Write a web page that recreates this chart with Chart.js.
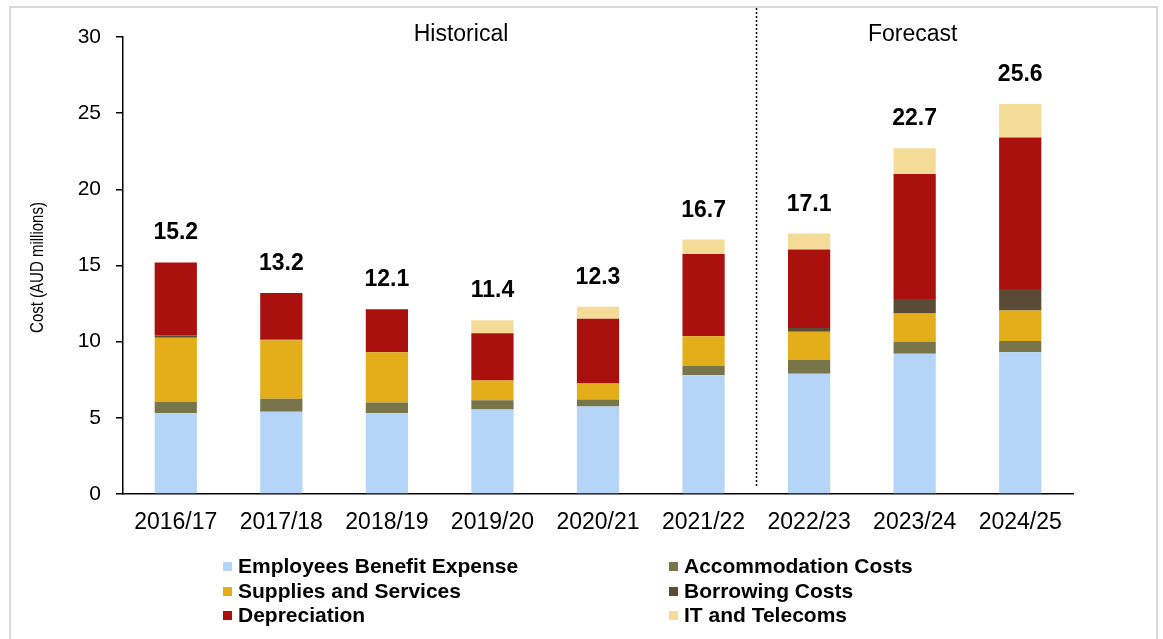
<!DOCTYPE html>
<html>
<head>
<meta charset="utf-8">
<script src="https://cdn.jsdelivr.net/npm/chart.js@4.4.0/dist/chart.umd.min.js"></script>
<style>
  body { margin: 0; background: #fff; overflow: hidden; font-family: "Liberation Sans", Arial, sans-serif; }
  #wrap { position: relative; width: 1163px; height: 639px; }
  #frame { position: absolute; left: 9px; top: 6px; width: 1149px; height: 660px; border: 2px solid #d9d9d9; box-sizing: border-box; }
  #chart { position: absolute; left: 0; top: 0; }
  .item { position: absolute; font-weight: bold; font-size: 21px; color: #000; line-height: 24px; white-space: nowrap; }
  .item .box { display: inline-block; width: 9px; height: 9px; margin-right: 6px; vertical-align: 2px; }
</style>
</head>
<body>
<div id="wrap">
  <div id="frame"></div>
  <canvas id="chart" width="1163" height="639"></canvas>
  <div id="legend"></div>
</div>
<script>
// years on the x axis
const years = ['2016/17', '2017/18', '2018/19', '2019/20', '2020/21', '2021/22', '2022/23', '2023/24', '2024/25'];

// cost components, AUD millions
const employees     = [5.3, 5.4, 5.3, 5.55, 5.75, 7.8, 7.9, 9.2, 9.3];
const accommodation = [0.75, 0.85, 0.7, 0.6, 0.45, 0.6, 0.9, 0.8, 0.75];
const supplies      = [4.2, 3.85, 3.3, 1.3, 1.05, 1.95, 1.85, 1.85, 2.0];
const borrowing     = [0.15, 0.05, 0.02, 0, 0, 0, 0.25, 0.95, 1.4];
const depreciation  = [4.8, 3.05, 2.8, 3.1, 4.25, 5.4, 5.15, 8.2, 9.95];
const itTelecoms    = [0, 0, 0, 0.85, 0.8, 0.95, 1.05, 1.7, 2.2];

// totals printed above the bars
const totals = [15.2, 13.2, 12.1, 11.4, 12.3, 16.7, 17.1, 22.7, 25.6];

const yTicks = [0, 5, 10, 15, 20, 25, 30];

const series = [
  { label: 'Employees Benefit Expense', data: employees, color: '#b4d5f8' },
  { label: 'Accommodation Costs', data: accommodation, color: '#78754a' },
  { label: 'Supplies and Services', data: supplies, color: '#e3ae19' },
  { label: 'Borrowing Costs', data: borrowing, color: '#5b4b36' },
  { label: 'Depreciation', data: depreciation, color: '#aa110e' },
  { label: 'IT and Telecoms', data: itTelecoms, color: '#f4db97' }
];

const FONT = '"Liberation Sans", Arial, sans-serif';

// totals, divider line, section labels, y title
const overlay = {
  id: 'overlay',
  afterDatasetsDraw(chart) {
    const { ctx, scales: { x, y }, chartArea } = chart;
    ctx.save();
    ctx.fillStyle = '#000';

    ctx.font = 'bold 23px ' + FONT;
    ctx.textAlign = 'center';
    ctx.textBaseline = 'alphabetic';
    totals.forEach((t, i) => {
      const sum = series.reduce((s, d) => s + d.data[i], 0);
      ctx.fillText(t.toFixed(1), x.getPixelForValue(i), y.getPixelForValue(sum) - 23);
    });

    // dotted line between historical and forecast
    const dx = Math.round((x.getPixelForValue(5) + x.getPixelForValue(6)) / 2) + 0.5;
    ctx.strokeStyle = '#000';
    ctx.lineWidth = 1.5;
    ctx.setLineDash([2, 2]);
    ctx.beginPath();
    ctx.moveTo(dx, 8);
    ctx.lineTo(dx, chartArea.bottom - 6);
    ctx.stroke();
    ctx.setLineDash([]);

    ctx.font = '23px ' + FONT;
    ctx.textBaseline = 'middle';
    ctx.fillText('Historical', 461, 35);
    ctx.fillText('Forecast', x.getPixelForValue(7) - 2, 35);

    // y title is a bit taller than wide in the source, so stretch it slightly
    ctx.font = '15px ' + FONT;
    ctx.translate(38, (chartArea.top + chartArea.bottom) / 2 + 2);
    ctx.rotate(-Math.PI / 2);
    ctx.scale(1, 1.18);
    ctx.fillText('Cost (AUD millions)', 0, 0);
    ctx.restore();
  }
};

const ctx = document.getElementById('chart').getContext('2d');
new Chart(ctx, {
  type: 'bar',
  data: {
    labels: years,
    datasets: series.map(s => ({
      label: s.label,
      data: s.data,
      backgroundColor: s.color,
      borderWidth: 0,
      barPercentage: 0.4,
      categoryPercentage: 1.0
    }))
  },
  options: {
    responsive: false,
    animation: false,
    layout: { padding: { left: 10, right: 90, top: 37, bottom: 105 } },
    plugins: {
      legend: { display: false },
      tooltip: { enabled: false }
    },
    scales: {
      x: {
        stacked: true,
        grid: { display: false, drawTicks: false },
        border: { color: '#000', width: 1.5 },
        ticks: { color: '#000', font: { family: FONT, size: 23 }, padding: 15, maxRotation: 0 },
        afterFit(scale) { scale.height = 40; }
      },
      y: {
        stacked: true,
        min: 0,
        max: 30,
        afterBuildTicks(scale) { scale.ticks = yTicks.map(v => ({ value: v })); },
        grid: { drawOnChartArea: false, drawTicks: true, tickLength: 7, color: '#000', lineWidth: 1.5 },
        border: { color: '#000', width: 1.5 },
        ticks: { color: '#000', font: { family: FONT, size: 21 }, padding: 15 },
        afterFit(scale) { scale.width = 113; }
      }
    }
  },
  plugins: [overlay]
});

// two-column legend under the chart
const legendPos = [
  [223, 554], [669, 554],
  [223, 579], [669, 579],
  [223, 603], [669, 603]
];
const legendEl = document.getElementById('legend');
series.forEach((s, k) => {
  const div = document.createElement('div');
  div.className = 'item';
  div.style.left = legendPos[k][0] + 'px';
  div.style.top = legendPos[k][1] + 'px';
  div.innerHTML = '<span class="box" style="background:' + s.color + '"></span>' + s.label;
  legendEl.appendChild(div);
});
</script>
</body>
</html>
